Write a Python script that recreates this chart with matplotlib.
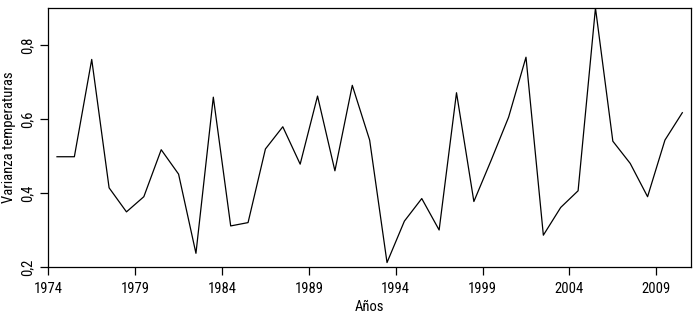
import numpy as np
import matplotlib
matplotlib.use("Agg")
import matplotlib.pyplot as plt
from matplotlib.ticker import FuncFormatter
from matplotlib import font_manager

names = {f.name for f in font_manager.fontManager.ttflist}
narrow = [n for n in ['Liberation Sans Narrow', 'DejaVu Sans Condensed', 'Roboto Condensed']
          if n in names]
plt.rcParams['font.family'] = narrow + ['Liberation Sans', 'DejaVu Sans']

# annual values, plotted at mid-year
years = np.arange(1974, 2011) + 0.5
varianza = [0.498, 0.498, 0.761, 0.414, 0.349, 0.390, 0.517, 0.451, 0.237, 0.659,
            0.311, 0.320, 0.519, 0.579, 0.478, 0.662, 0.460, 0.691, 0.543, 0.212,
            0.324, 0.385, 0.300, 0.671, 0.377, 0.489, 0.605, 0.767, 0.286, 0.361,
            0.406, 0.900, 0.540, 0.480, 0.390, 0.543, 0.617]
xticks = [1974, 1979, 1984, 1989, 1994, 1999, 2004, 2009]
yticks = [0.2, 0.4, 0.6, 0.8]

fig = plt.figure(figsize=(6.98, 3.23), dpi=100)
ax = fig.add_axes([48.3 / 698, 56 / 323, (691 - 48.3) / 698, (267 - 8) / 323])

ax.plot(years, varianza, color='black', lw=0.9)

ax.set_xlim(1974, 2011)
ax.set_ylim(0.2, 0.9)
ax.set_xticks(xticks)
ax.set_yticks(yticks)
ax.yaxis.set_major_formatter(FuncFormatter(lambda v, p: f'{v:.1f}'.replace('.', ',')))
ax.tick_params(direction='out', length=6, width=0.9, labelsize=10.5)
ax.tick_params(axis='x', pad=5)
ax.tick_params(axis='y', pad=4)
for lab in ax.get_yticklabels():
    lab.set_rotation(90)
    lab.set_va('center')
for s in ax.spines.values():
    s.set_linewidth(0.9)

ax.set_xlabel('Años', fontsize=10.5)
ax.set_ylabel('Varianza temperaturas', fontsize=10.5)
ax.xaxis.set_label_coords(0.5, -40 / 259, transform=ax.transAxes)
ax.yaxis.set_label_coords(-39 / 642.7, 0.5, transform=ax.transAxes)
ax.xaxis.label.set_va('center')
ax.yaxis.label.set_va('center')

fig.savefig('out.png', dpi=100)
